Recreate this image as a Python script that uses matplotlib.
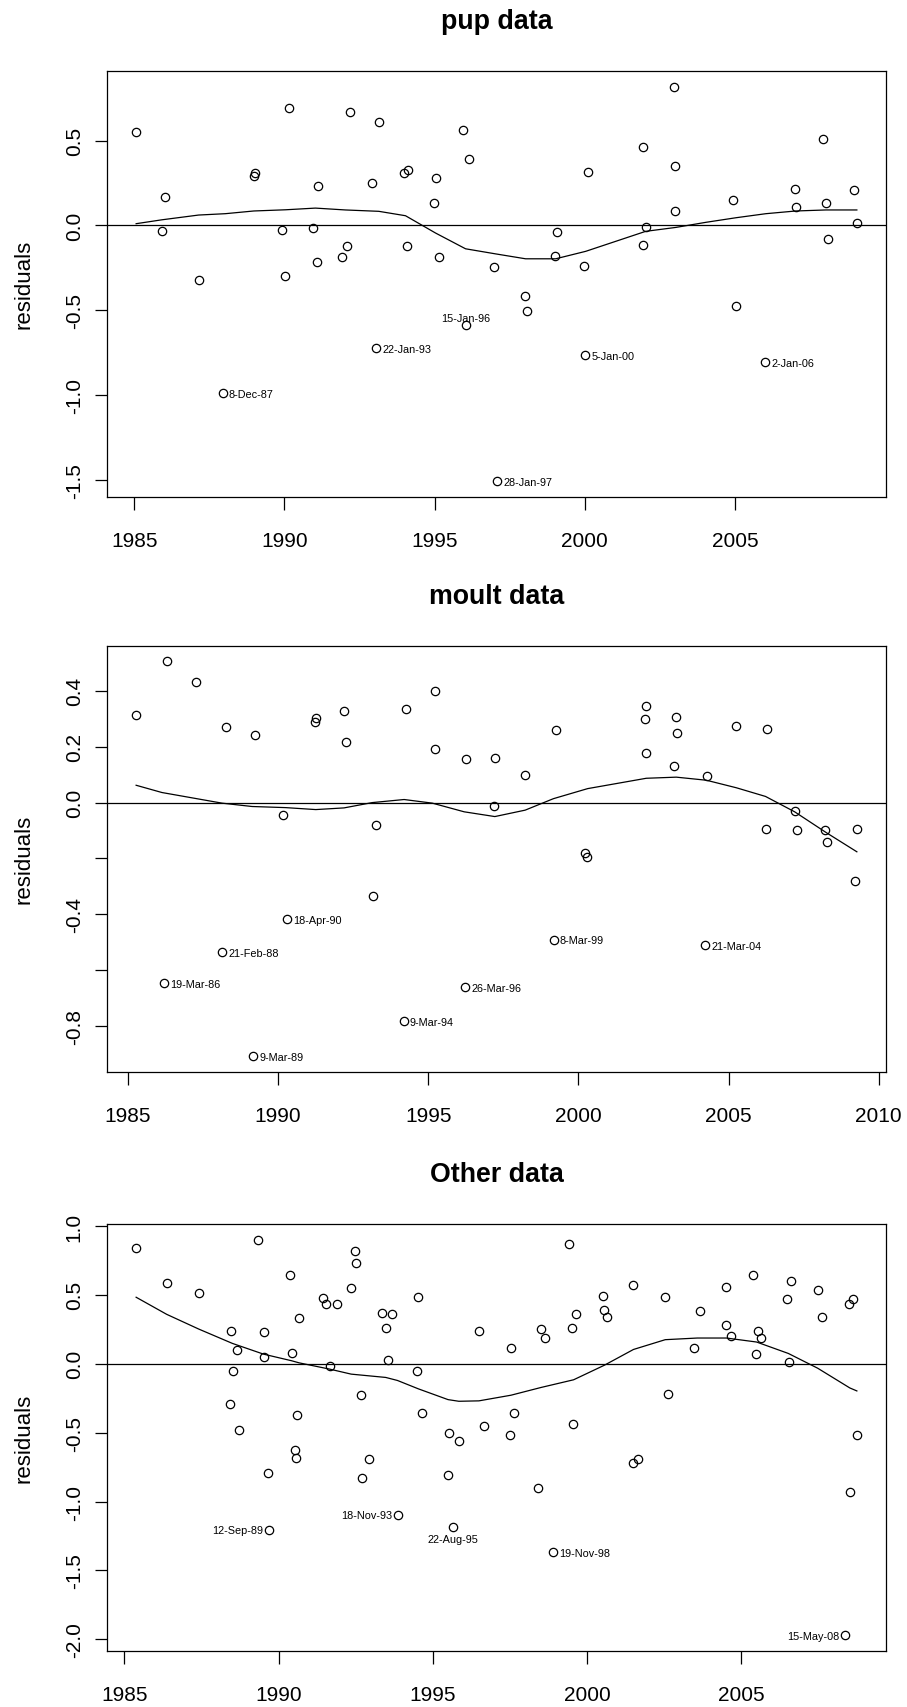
import matplotlib
matplotlib.use('Agg')
import matplotlib.pyplot as plt
import numpy as np

plt.rcParams['font.family'] = ['Liberation Sans', 'DejaVu Sans']

# --- pup data -------------------------------------------------------------
pup_x = [1985.06, 1986.03, 1985.93, 1987.16, 1988.98, 1989.02, 1989.91, 1990.01,
         1990.14, 1990.94, 1991.08, 1991.12, 1991.93, 1992.07, 1992.17, 1992.90,
         1993.14, 1993.98, 1994.12, 1994.08, 1995.06, 1994.97, 1995.14, 1995.96,
         1996.13, 1996.98, 1998.02, 1998.07, 1999.09, 1999.00, 1999.98, 2000.12,
         2001.93, 2001.93, 2002.03, 2002.98, 2003.02, 2003.02, 2004.93, 2005.02,
         2006.99, 2007.04, 2007.93, 2008.02, 2008.11, 2008.97, 2009.06]
pup_y = [0.553, 0.165, -0.031, -0.321, 0.289, 0.307, -0.026, -0.297,
         0.693, -0.016, -0.213, 0.234, -0.189, -0.122, 0.669, 0.248,
         0.612, 0.307, 0.325, -0.122, 0.281, 0.134, -0.189, 0.563,
         0.390, -0.246, -0.419, -0.502, -0.039, -0.179, -0.238, 0.315,
         0.462, -0.114, -0.008, 0.819, 0.348, 0.083, 0.150, -0.478,
         0.216, 0.110, 0.512, 0.134, -0.083, 0.209, 0.012]
pup_out_x = [1987.94, 1993.06, 1996.04, 1997.08, 2000.01, 2006.00]
pup_out_y = [-0.990, -0.724, -0.590, -1.507, -0.767, -0.807]
pup_out_lab = ['8-Dec-87', '22-Jan-93', '15-Jan-96', '28-Jan-97', '5-Jan-00', '2-Jan-06']
pup_fit_x = [1985.06, 1985.92, 1987.14, 1988.03, 1988.98, 1990.03, 1991.03, 1992.03,
             1993.14, 1994.03, 1995.03, 1996.03, 1997.03, 1998.03, 1999.03, 2000.03,
             2001.03, 2002.03, 2003.03, 2004.03, 2005.03, 2006.03, 2007.03, 2008.03,
             2009.06]
pup_fit_y = [0.010, 0.033, 0.061, 0.069, 0.085, 0.092, 0.102, 0.091,
             0.083, 0.057, -0.045, -0.138, -0.168, -0.197, -0.197, -0.153,
             -0.094, -0.035, -0.012, 0.018, 0.045, 0.069, 0.085, 0.091,
             0.091]

# --- moult data -----------------------------------------------------------
moult_x = [1985.28, 1986.30, 1987.28, 1988.26, 1989.24, 1990.18, 1991.22, 1991.26,
           1992.20, 1992.28, 1993.27, 1993.18, 1994.26, 1995.23, 1995.23, 1996.26,
           1997.22, 1997.20, 1998.23, 1999.26, 2000.23, 2000.28, 2002.21, 2002.26,
           2002.26, 2003.20, 2003.24, 2003.29, 2004.27, 2005.24, 2006.28, 2006.23,
           2007.21, 2007.27, 2008.20, 2008.29, 2009.27, 2009.22]
moult_y = [0.315, 0.505, 0.430, 0.271, 0.241, -0.044, 0.290, 0.301,
           0.326, 0.215, -0.080, -0.335, 0.336, 0.400, 0.191, 0.155,
           0.161, -0.011, 0.100, 0.260, -0.179, -0.195, 0.300, 0.344,
           0.179, 0.130, 0.305, 0.250, 0.094, 0.275, 0.265, -0.096,
           -0.030, -0.099, -0.099, -0.140, -0.096, -0.280]
moult_out_x = [1986.21, 1988.14, 1989.18, 1990.29, 1994.18, 1996.23, 1999.18, 2004.22]
moult_out_y = [-0.646, -0.536, -0.906, -0.416, -0.781, -0.661, -0.490, -0.509]
moult_out_lab = ['19-Mar-86', '21-Feb-88', '9-Mar-89', '18-Apr-90',
                 '9-Mar-94', '26-Mar-96', '8-Mar-99', '21-Mar-04']
moult_fit_x = [1985.28, 1986.14, 1987.14, 1988.14, 1989.14, 1990.26, 1991.26, 1992.20,
               1993.14, 1994.20, 1995.14, 1996.20, 1997.22, 1998.23, 1999.17, 2000.31,
               2001.26, 2002.26, 2003.26, 2004.26, 2005.26, 2006.23, 2007.20, 2008.26,
               2009.27]
moult_fit_y = [0.062, 0.036, 0.017, -0.002, -0.014, -0.018, -0.025, -0.019,
               0.000, 0.011, -0.002, -0.033, -0.050, -0.027, 0.014, 0.050,
               0.068, 0.087, 0.091, 0.080, 0.053, 0.022, -0.033, -0.108,
               -0.176]

# --- other data -----------------------------------------------------------
other_x = [1985.38, 1986.37, 1987.41, 1988.47, 1988.65, 1988.51, 1988.43, 1988.70,
           1989.34, 1989.51, 1989.51, 1989.65, 1990.37, 1990.42, 1990.66, 1990.61,
           1990.53, 1990.56, 1991.43, 1991.53, 1991.66, 1991.88, 1992.35, 1992.48,
           1992.52, 1992.66, 1992.94, 1992.71, 1993.34, 1993.67, 1993.48, 1993.53,
           1994.53, 1994.49, 1994.66, 1995.53, 1995.84, 1995.49, 1996.49, 1996.67,
           1997.53, 1997.49, 1997.63, 1998.40, 1998.50, 1998.64, 1999.41, 1999.50,
           1999.64, 1999.55, 2000.51, 2000.55, 2000.65, 2001.50, 2001.50, 2001.66,
           2002.53, 2002.62, 2003.47, 2003.65, 2004.51, 2004.51, 2004.65, 2005.38,
           2005.52, 2005.62, 2005.48, 2006.47, 2006.61, 2006.53, 2007.47, 2007.61,
           2008.47, 2008.62, 2008.51, 2008.74]
other_y = [0.839, 0.585, 0.514, 0.238, 0.097, -0.053, -0.289, -0.480,
           0.900, 0.230, 0.046, -0.796, 0.645, 0.078, 0.330, -0.371,
           -0.626, -0.684, 0.475, 0.432, -0.017, 0.432, 0.553, 0.818,
           0.728, -0.228, -0.694, -0.827, 0.371, 0.361, 0.262, 0.027,
           0.483, -0.053, -0.359, -0.502, -0.563, -0.808, 0.240, -0.451,
           0.116, -0.514, -0.359, -0.900, 0.250, 0.189, 0.871, 0.262,
           0.361, -0.434, 0.492, 0.393, 0.342, 0.573, -0.718, -0.694,
           0.483, -0.216, 0.116, 0.381, 0.556, 0.281, 0.199, 0.645,
           0.240, 0.189, 0.068, 0.473, 0.604, 0.015, 0.536, 0.342,
           0.432, 0.473, -0.929, -0.514]
other_out_x = [1989.70, 1993.88, 1995.64, 1998.88, 2008.37]
other_out_y = [-1.203, -1.094, -1.184, -1.366, -1.967]
other_out_lab = ['12-Sep-89', '18-Nov-93', '22-Aug-95', '19-Nov-98', '15-May-08']
other_fit_x = [1985.38, 1986.37, 1987.41, 1988.50, 1989.51, 1990.42, 1990.66, 1991.66,
               1992.35, 1993.47, 1993.85, 1994.53, 1995.49, 1995.84, 1996.49, 1997.53,
               1998.50, 1999.56, 2000.56, 2001.50, 2002.53, 2003.57, 2004.51, 2005.49,
               2006.52, 2007.47, 2008.51, 2008.74]
other_fit_y = [0.483, 0.359, 0.252, 0.148, 0.070, 0.022, 0.007, -0.039,
               -0.075, -0.099, -0.121, -0.182, -0.260, -0.272, -0.269, -0.228,
               -0.172, -0.116, -0.010, 0.104, 0.175, 0.187, 0.187, 0.158,
               0.075, -0.032, -0.175, -0.197]

# which side of the point each outlier label sits on
pup_side = ['right', 'right', 'above', 'right', 'right', 'right']
moult_side = ['right'] * 8
other_side = ['left', 'left', 'below', 'right', 'left']

offsets = {'right': ((4.5, -0.5), 'left', 'center'),
           'left': ((-4.5, -0.5), 'right', 'center'),
           'above': ((0, 2), 'center', 'bottom'),
           'below': ((0, -5), 'center', 'top')}


def r_limits(values):
    # same 4% padding R uses for its axis ranges
    lo, hi = min(values), max(values)
    pad = 0.04 * (hi - lo)
    return lo - pad, hi + pad


def residual_panel(ax, title, x, y, out_x, out_y, out_lab, sides, fit_x, fit_y,
                   yticks, yticklabels, xticks):
    all_x = list(x) + list(out_x)
    all_y = list(y) + list(out_y)
    ax.plot(all_x, all_y, 'o', markersize=6, markerfacecolor='none',
            markeredgecolor='black', markeredgewidth=0.9)
    ax.plot(fit_x, fit_y, color='black', linewidth=0.9)
    ax.axhline(0, color='black', linewidth=0.9)

    for px, py, lab, side in zip(out_x, out_y, out_lab, sides):
        off, ha, va = offsets[side]
        ax.annotate(lab, (px, py), xytext=off, textcoords='offset points',
                    ha=ha, va=va, fontsize=7.8)

    ax.set_xlim(*r_limits(all_x))
    ax.set_ylim(*r_limits(all_y))
    ax.set_xticks(xticks)
    ax.set_xticklabels([str(t) for t in xticks])
    ax.set_yticks(yticks)
    ax.set_yticklabels(yticklabels, rotation=90, va='center')

    ax.tick_params(axis='both', direction='out', length=9, width=0.9,
                   labelsize=15)
    ax.tick_params(axis='x', pad=16)
    ax.tick_params(axis='y', pad=8)
    for sp in ax.spines.values():
        sp.set_linewidth(0.9)

    ax.set_title(title, fontsize=19.3, fontweight='bold', pad=31)
    ax.set_ylabel('residuals', fontsize=16)
    ax.yaxis.set_label_coords(-0.093, 0.5)


fig = plt.figure(figsize=(9.07, 17.08), dpi=100)
ax1 = fig.add_axes([0.1183, 0.7086, 0.8582, 0.2494])
ax2 = fig.add_axes([0.1183, 0.3720, 0.8582, 0.2494])
ax3 = fig.add_axes([0.1183, 0.0330, 0.8582, 0.2498])

residual_panel(ax1, 'pup data', pup_x, pup_y, pup_out_x, pup_out_y, pup_out_lab,
               pup_side, pup_fit_x, pup_fit_y,
               [-1.5, -1.0, -0.5, 0.0, 0.5], ['-1.5', '-1.0', '-0.5', '0.0', '0.5'],
               [1985, 1990, 1995, 2000, 2005])
residual_panel(ax2, 'moult data', moult_x, moult_y, moult_out_x, moult_out_y,
               moult_out_lab, moult_side, moult_fit_x, moult_fit_y,
               [-0.8, -0.6, -0.4, -0.2, 0.0, 0.2, 0.4],
               ['-0.8', '', '-0.4', '', '0.0', '0.2', '0.4'],
               [1985, 1990, 1995, 2000, 2005, 2010])
residual_panel(ax3, 'Other data', other_x, other_y, other_out_x, other_out_y,
               other_out_lab, other_side, other_fit_x, other_fit_y,
               [-2.0, -1.5, -1.0, -0.5, 0.0, 0.5, 1.0],
               ['-2.0', '-1.5', '-1.0', '-0.5', '0.0', '0.5', '1.0'],
               [1985, 1990, 1995, 2000, 2005])

fig.savefig('out.png', dpi=100)
